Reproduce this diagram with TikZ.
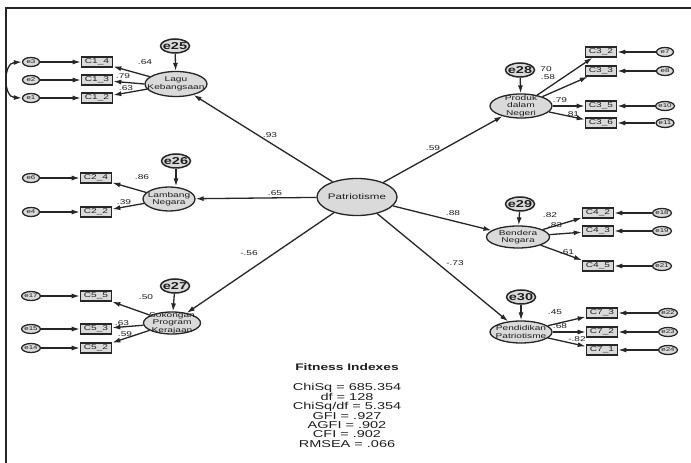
\documentclass[tikz,border=0pt]{standalone}
\usepackage{fontspec}
\setmainfont{Liberation Sans}[FakeStretch=1.45]
\usetikzlibrary{shapes.geometric,arrows.meta}
\definecolor{ln}{HTML}{262626}
\definecolor{fl}{HTML}{DADADA}
\definecolor{tx}{HTML}{1E1E1E}
\tikzset{
  lat/.style={ellipse, draw=ln, line width=1.3bp, fill=fl, inner sep=0pt},
  lt/.style={font=\fontsize{7bp}{7.5bp}\selectfont, text=tx, align=center, inner sep=0pt},
  obs/.style={rectangle, draw=ln, line width=1.6bp, fill=fl, inner sep=0pt,
    minimum width=31bp, minimum height=10bp, font=\fontsize{7bp}{8bp}\selectfont, text=tx},
  err/.style={ellipse, draw=ln, line width=1.3bp, fill=fl, inner sep=0pt,
    minimum width=17bp, minimum height=9bp, font=\fontsize{5.5bp}{6bp}\selectfont, text=tx},
  berr/.style={ellipse, draw=ln, line width=1.5bp, fill=fl, inner sep=0pt,
    minimum width=29bp, minimum height=14bp},
  bt/.style={font=\fontsize{10bp}{11bp}\selectfont\bfseries, text=tx, inner sep=0pt},
  lbl/.style={font=\fontsize{7bp}{8bp}\selectfont, text=tx, inner sep=0pt},
  arr/.style={draw=ln, line width=1.3bp, -{Latex[length=8bp,width=5bp]}},
  arr2/.style={draw=ln, line width=1.3bp, {Latex[length=8bp,width=5bp]}-{Latex[length=8bp,width=5bp]}},
}
\begin{document}
\begin{tikzpicture}[x=1bp,y=-1bp]
\useasboundingbox (0,0) rectangle (691,463);
\fill[white] (0,0) rectangle (691,463);
\draw[line width=2.2bp, draw=ln] (6,463) -- (6,8) -- (691,8);

% centre
\node[lat, minimum width=80bp, minimum height=37bp,
  label={[lt,font=\fontsize{8bp}{9bp}\selectfont]center:Patriotisme}] (pat) at (357,197) {};

% ---------- Lagu Kebangsaan ----------
\node[lat, minimum width=62bp, minimum height=25bp,
  label={[lt]center:Lagu\\Kebangsaan}] (lagu) at (176,84) {};
\node[berr, label={[bt]center:e25}] (e25) at (175,46) {};
\node[obs] (c14) at (97,62) {C1\_4};
\node[obs] (c13) at (97,80) {C1\_3};
\node[obs] (c12) at (97,98) {C1\_2};
\node[err] (e3) at (31,62) {e3};
\node[err] (e2) at (31,80) {e2};
\node[err] (e1) at (31,98) {e1};
\draw[arr] (e25) -- (lagu);
\draw[arr] (lagu) -- (c14);
\draw[arr] (lagu.west) -- (c13);
\draw[arr] (lagu) -- (c12);
\draw[arr] (e3) -- (c14);
\draw[arr] (e2) -- (c13);
\draw[arr] (e1) -- (c12);
\draw[arr2] (e3.west) .. controls (3,63) and (3,97) .. (e1.west);
\node[lbl] (l64) at (145,62) {.64};
\node[lbl] (l79) at (123,76) {.79};
\node[lbl] (l63a) at (126,88) {.63};

% ---------- Lambang Negara ----------
\node[lat, minimum width=52bp, minimum height=24bp,
  label={[lt]center:Lambang\\Negara}] (lamb) at (169,199) {};
\node[berr, label={[bt]center:e26}] (e26) at (176,161) {};
\node[obs] (c24) at (96,178) {C2\_4};
\node[obs] (c22) at (96,212) {C2\_2};
\node[err] (e6) at (31,178) {e6};
\node[err] (e4) at (31,212) {e4};
\draw[arr] (e26) -- (lamb.north -| e26);
\draw[arr] (lamb) -- (c24);
\draw[arr] (lamb) -- (c22);
\draw[arr] (e6) -- (c24);
\draw[arr] (e4) -- (c22);
\node[lbl] (l86) at (142,177) {.86};
\node[lbl] (l39) at (124,202) {.39};

% ---------- Sokongan Program Kerajaan ----------
\node[lat, minimum width=57bp, minimum height=22bp,
  label={[lt]center:Sokongan\\Program\\Kerajaan}] (sok) at (172,323) {};
\node[berr, label={[bt]center:e27}] (e27) at (175,286) {};
\node[obs] (c55) at (96,296) {C5\_5};
\node[obs] (c53) at (96,329) {C5\_3};
\node[obs] (c52) at (96,348) {C5\_2};
\node[err] (e17) at (31,296) {e17};
\node[err] (e15) at (31,329) {e15};
\node[err] (e14) at (31,348) {e14};
\draw[arr] (e27) -- (sok);
\draw[arr] (sok) -- (c55);
\draw[arr] (sok) -- (c53);
\draw[arr] (sok) -- (c52);
\draw[arr] (e17) -- (c55);
\draw[arr] (e15) -- (c53);
\draw[arr] (e14) -- (c52);
\node[lbl] (l50) at (146,297) {.50};
\node[lbl] (l63b) at (122,323) {.63};
\node[lbl] (l59a) at (125,334) {.59};

% ---------- Produk dalam Negeri ----------
\node[lat, minimum width=62bp, minimum height=24bp,
  label={[lt]center:Produk\\dalam\\Negeri}] (prod) at (521,106) {};
\node[berr, label={[bt]center:e28}] (e28) at (520,70) {};
\node[obs] (c32) at (601,52) {C3\_2};
\node[obs] (c33) at (601,71) {C3\_3};
\node[obs] (c35) at (601,106) {C3\_5};
\node[obs] (c36) at (601,123) {C3\_6};
\node[err] (e7) at (665,52) {e7};
\node[err] (e8) at (665,71) {e8};
\node[err] (e10) at (665,106) {e10};
\node[err] (e11) at (665,123) {e11};
\draw[arr] (e28) -- (prod);
\draw[arr] (prod) -- (c32);
\draw[arr] (prod) -- (c33);
\draw[arr] (prod) -- (c35);
\draw[arr] (prod) -- (c36);
\draw[arr] (e7) -- (c32);
\draw[arr] (e8) -- (c33);
\draw[arr] (e10) -- (c35);
\draw[arr] (e11) -- (c36);
\node[lbl] (l70) at (546,69) {70};
\node[lbl] (l58) at (548,77) {.58};
\node[lbl] (l79b) at (560,100) {.79};
\node[lbl] (l81) at (572,114) {.81};

% ---------- Bendera Negara ----------
\node[lat, minimum width=63bp, minimum height=22bp,
  label={[lt]center:Bendera\\Negara}] (bend) at (518,237) {};
\node[berr, label={[bt]center:e29}] (e29) at (520,204) {};
\node[obs] (c42) at (598,213) {C4\_2};
\node[obs] (c43) at (598,231) {C4\_3};
\node[obs] (c45) at (598,266) {C4\_5};
\node[err] (e18) at (662,213) {e18};
\node[err] (e19) at (662,231) {e19};
\node[err] (e21) at (662,266) {e21};
\draw[arr] (e29) -- (bend);
\draw[arr] (bend) -- (c42);
\draw[arr] (bend) -- (c43);
\draw[arr] (bend) -- (c45);
\draw[arr] (e18) -- (c42);
\draw[arr] (e19) -- (c43);
\draw[arr] (e21) -- (c45);
\node[lbl] (l82) at (550,215) {.82};
\node[lbl] (l83) at (555,225) {.83};
\node[lbl] (l61) at (567,252) {.61};

% ---------- Pendidikan Patriotisme ----------
\node[lat, minimum width=62bp, minimum height=22bp,
  label={[lt]center:Pendidikan\\Patriotisme}] (pend) at (521,332) {};
\node[berr, label={[bt]center:e30}] (e30) at (521,297) {};
\node[obs] (c73) at (602,313) {C7\_3};
\node[obs] (c72) at (602,332) {C7\_2};
\node[obs] (c71) at (602,350) {C7\_1};
\node[err] (e22) at (668,313) {e22};
\node[err] (e23) at (668,332) {e23};
\node[err] (e24) at (668,350) {e24};
\draw[arr] (e30) -- (pend);
\draw[arr] (pend) -- (c73);
\draw[arr] (pend) -- (c72);
\draw[arr] (pend) -- (c71);
\draw[arr] (e22) -- (c73);
\draw[arr] (e23) -- (c72);
\draw[arr] (e24) -- (c71);
\node[lbl] (l45) at (555,312) {.45};
\node[lbl] (l68) at (560,326) {.68};
\node[lbl] (lm82) at (577,339) {-.82};

% ---------- structural paths ----------
\draw[arr] (pat) -- (lagu);
\draw[arr] (pat) -- (lamb);
\draw[arr] (pat) -- (sok);
\draw[arr] (pat) -- (prod);
\draw[arr] (pat) -- (bend);
\draw[arr] (pat) -- (pend);
\node[lbl] (l93) at (270,135) {.93};
\node[lbl] (l65) at (275,193) {.65};
\node[lbl] (lm56) at (249,253) {-.56};
\node[lbl] (l59b) at (433,148) {.59};
\node[lbl] (l88) at (453,213) {.88};
\node[lbl] (lm73) at (455,263) {-.73};

% ---------- fitness ----------
\node[font=\fontsize{9.5bp}{10bp}\selectfont\bfseries, text=tx, inner sep=0pt] (fit) at (347,367) {Fitness Indexes};
\node[font=\fontsize{10bp}{9.4bp}\selectfont, text=tx, inner sep=0pt, align=center, anchor=north] (fitv) at (347,383.5)
  {ChiSq = 685.354\\df = 128\\ChiSq/df = 5.354\\GFI = .927\\AGFI = .902\\CFI = .902\\RMSEA = .066};
\end{tikzpicture}
\end{document}
